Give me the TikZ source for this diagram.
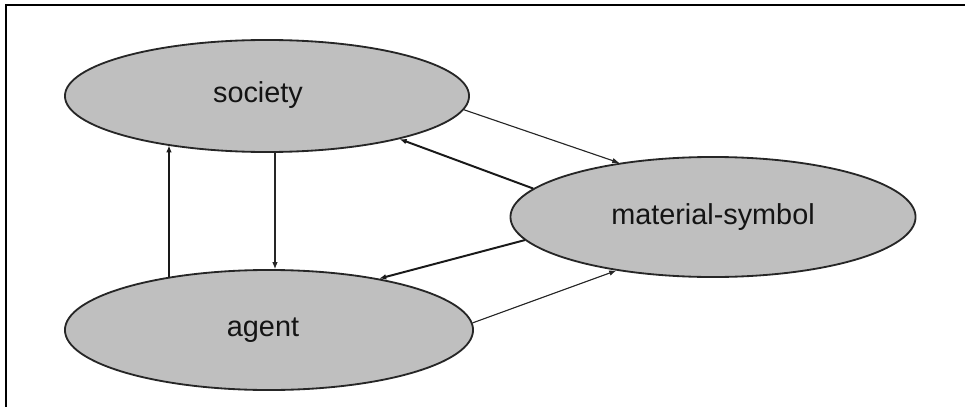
\documentclass[tikz,border=0pt]{standalone}
\usepackage{fontspec}
\setmainfont{Liberation Sans}
\usetikzlibrary{arrows.meta,shapes.geometric}
\tikzset{
	blob/.style={ellipse, draw=black!85, line width=1.3pt, fill=black!25, text=black!92, inner sep=0pt,
		font=\fontsize{20.5}{24}\selectfont},
	weak/.style={draw=black!85, line width=0.8pt, -{Latex[length=5pt,width=4pt]}},
	strong/.style={draw=black!90, line width=1.4pt, -{Latex[length=5pt,width=4pt]}}
}

\begin{document}
\begin{tikzpicture}[x=0.025cm, y=-0.025cm]
			%%%%% START %%%%%
			\useasboundingbox (0, 0) rectangle (965, 407);
			
			\draw[line width=2pt] (6, 407) -- (6, 5) -- (965, 5);
			
			\node[blob, minimum width=10.1cm, minimum height=2.8cm] (society) at (267, 96) {\hspace*{-0.45cm}\raisebox{0.2cm}{society}};
			\node[blob, minimum width=10.125cm, minimum height=3cm] (matsym) at (713, 217) {material-symbol};
			\node[blob, minimum width=10.2cm, minimum height=3cm] (agent) at (269, 330) {\hspace*{-0.3cm}agent};
			
			\draw[weak] (society.-4) -- (matsym.150);
			\draw[strong] (matsym.171) -- (society.-18.6);
			
			\draw[weak] (society.-82) -- (society.-82 |- agent.north);
			\draw[strong] (agent.152.8) -- (agent.152.8 |- society.206.6);
			
			\draw[strong] (matsym.187) -- (agent.25);
			\draw[weak] (agent.2) -- (matsym.209);
			
			%%%%% END %%%%%
\end{tikzpicture}
\end{document}
